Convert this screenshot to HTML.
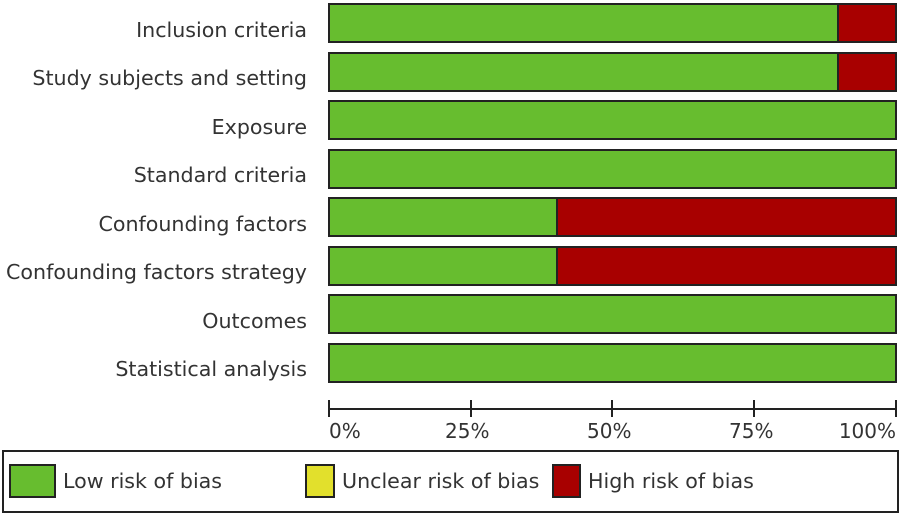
<!DOCTYPE html>
<html><head><style>
body{margin:0;background:#fff;width:902px;height:516px;overflow:hidden;}
</style></head><body>
<svg width="902" height="516" xmlns="http://www.w3.org/2000/svg" font-family="DejaVu Sans, sans-serif" font-size="20.6" fill="#333">
<g stroke="#222" stroke-width="2">
<rect x="329" y="4" width="567" height="38" fill="#67bd2f"/><rect x="838" y="4" width="58" height="38" fill="#a80000"/>
<rect x="329" y="53" width="567" height="38" fill="#67bd2f"/><rect x="838" y="53" width="58" height="38" fill="#a80000"/>
<rect x="329" y="101" width="567" height="38" fill="#67bd2f"/>
<rect x="329" y="150" width="567" height="38" fill="#67bd2f"/>
<rect x="329" y="198" width="567" height="38" fill="#67bd2f"/><rect x="557" y="198" width="339" height="38" fill="#a80000"/>
<rect x="329" y="247" width="567" height="38" fill="#67bd2f"/><rect x="557" y="247" width="339" height="38" fill="#a80000"/>
<rect x="329" y="295" width="567" height="38" fill="#67bd2f"/>
<rect x="329" y="344" width="567" height="38" fill="#67bd2f"/>
<line x1="329" y1="409" x2="896" y2="409"/>
<line x1="329" y1="400" x2="329" y2="417"/><line x1="471" y1="400" x2="471" y2="417"/><line x1="612" y1="400" x2="612" y2="417"/><line x1="754" y1="400" x2="754" y2="417"/><line x1="896" y1="400" x2="896" y2="417"/>
<rect x="3" y="451" width="895" height="61" fill="#fff"/>
<rect x="10" y="465" width="45" height="32" fill="#67bd2f"/>
<rect x="306" y="465" width="28" height="32" fill="#e2e02c"/>
<rect x="553" y="465" width="27" height="32" fill="#a80000"/>
</g>
<g text-anchor="end">
<text x="307" y="37">Inclusion criteria</text>
<text x="307" y="85">Study subjects and setting</text>
<text x="307" y="134">Exposure</text>
<text x="307" y="182">Standard criteria</text>
<text x="307" y="231">Confounding factors</text>
<text x="307" y="279">Confounding factors strategy</text>
<text x="307" y="328">Outcomes</text>
<text x="307" y="376">Statistical analysis</text>
</g>
<g font-size="20">
<text x="329" y="438">0%</text>
<text x="445" y="438">25%</text>
<text x="587" y="438">50%</text>
<text x="729" y="438">75%</text>
<text x="896" y="438" text-anchor="end">100%</text>
</g>
<text x="63" y="488">Low risk of bias</text>
<text x="342" y="488">Unclear risk of bias</text>
<text x="588" y="488">High risk of bias</text>
</svg>
</body></html>
